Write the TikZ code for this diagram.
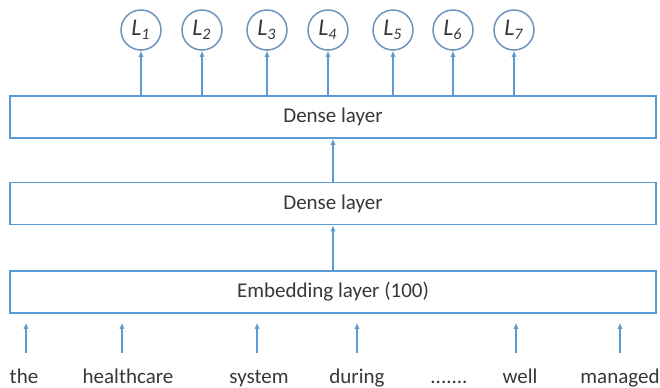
\documentclass[tikz,border=0pt]{standalone}
\usepackage{fontspec}
\setmainfont{Carlito}
\usetikzlibrary{arrows.meta}
\definecolor{lineblue}{RGB}{91,155,213}
\definecolor{ringblue}{RGB}{110,148,190}
\definecolor{txtgray}{RGB}{55,55,55}
\tikzset{
  layer/.style={draw=lineblue, line width=.75pt, minimum width=323pt,
    minimum height=21pt, inner sep=0pt, text=txtgray},
  label/.style={circle, draw=ringblue, line width=.75pt, minimum size=20pt,
    inner sep=0pt, text=txtgray, font=\fontsize{12}{14}\selectfont\itshape},
  word/.style={anchor=base, inner sep=0pt, text height=8pt, text depth=2pt,
    text=txtgray},
  arr/.style={-{Latex[length=3pt,width=2.6pt]}, draw=lineblue, line width=.6pt},
  inarr/.style={arr, shorten <=7pt, shorten >=4.5pt}
}
\begin{document}
\begin{tikzpicture}[x=.5pt, y=-.5pt, font=\fontsize{10.5}{12}\selectfont]
    \useasboundingbox (0,0) rectangle (660,387);
    % the three stacked layers
    \node[layer] (emb) at (333,292){Embedding layer (100)};
    \node[layer] (dense1) at (333,203.5){Dense layer};
    \node[layer] (dense2) at (333,117){Dense layer};
    \draw[arr](emb)--(dense1);
    \draw[arr](dense1)--(dense2);
    % outputs
    \node[label] (L1) at (141,30){L\textsubscript{1}};
    \node[label] (L2) at (202,30){L\textsubscript{2}};
    \node[label] (L3) at (267,30){L\textsubscript{3}};
    \node[label] (L4) at (328,30){L\textsubscript{4}};
    \node[label] (L5) at (393,30){L\textsubscript{5}};
    \node[label] (L6) at (453,30){L\textsubscript{6}};
    \node[label] (L7) at (514,30){L\textsubscript{7}};
    \draw[arr](dense2.north -| L1)--(L1);
    \draw[arr](dense2.north -| L2)--(L2);
    \draw[arr](dense2.north -| L3)--(L3);
    \draw[arr](dense2.north -| L4)--(L4);
    \draw[arr](dense2.north -| L5)--(L5);
    \draw[arr](dense2.north -| L6)--(L6);
    \draw[arr](dense2.north -| L7)--(L7);
    % input words
    \node[word] (w1) at (24,383){the};
    \node[word] (w2) at (128,383){healthcare};
    \node[word] (w3) at (259,383){system};
    \node[word] (w4) at (357,383){during};
    \node[word] (w5) at (449,383){.......};
    \node[word] (w6) at (520,383){well};
    \node[word] (w7) at (620,383){managed};
    \draw[inarr]([xshift=1pt]w1.north)--([xshift=1pt]w1.north |- emb.south);
    \draw[inarr]([xshift=-3pt]w2.north)--([xshift=-3pt]w2.north |- emb.south);
    \draw[inarr]([xshift=-1pt]w3.north)--([xshift=-1pt]w3.north |- emb.south);
    \draw[inarr](w4.north)--(w4.north |- emb.south);
    \draw[inarr]([xshift=-2pt]w6.north)--([xshift=-2pt]w6.north |- emb.south);
    \draw[inarr](w7.north)--(w7.north |- emb.south);
\end{tikzpicture}
\end{document}
